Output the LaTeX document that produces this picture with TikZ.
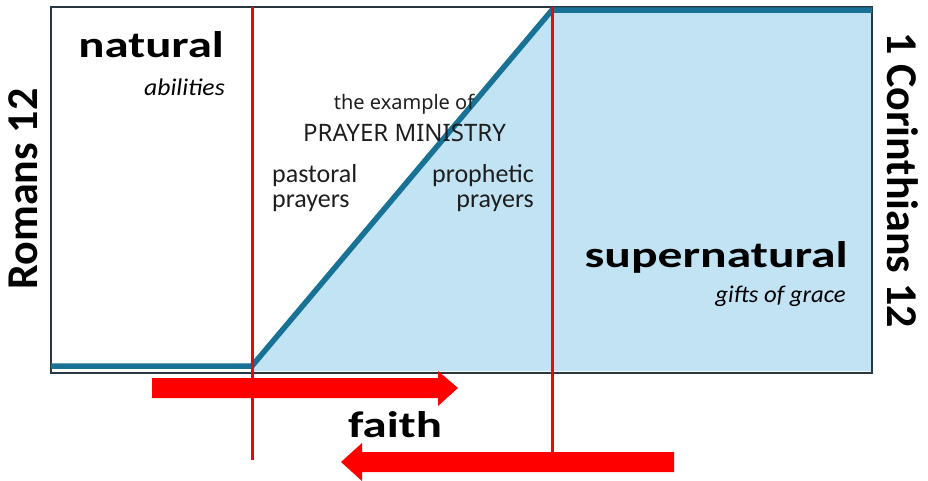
\documentclass[tikz,border=0pt]{standalone}
\usepackage{fontspec}
\usepackage{graphicx}
\setmainfont{Carlito}
\newfontfamily\notosans{Noto Sans}
\definecolor{skyfill}{RGB}{194,227,244}
\definecolor{tealline}{RGB}{24,114,150}
\definecolor{boxline}{RGB}{40,55,65}
\definecolor{redline}{RGB}{230,10,10}
\definecolor{redarrow}{RGB}{255,0,0}
\definecolor{midtext}{RGB}{30,30,30}
\newcommand{\widetext}[2]{\scalebox{#1}[1]{#2}}
\tikzset{
  txt/.style={inner sep=0pt, text=black},
  bigword/.style={txt, font=\bfseries\fontsize{37}{37}\selectfont},
  subword/.style={txt, font=\itshape\fontsize{24}{24}\selectfont},
  sidelabel/.style={txt, font=\bfseries\fontsize{44}{44}\selectfont},
  prayertxt/.style={txt, text=midtext, font=\fontsize{26}{26}\selectfont},
  heading/.style={txt, text=midtext, font=\notosans\fontsize{#1}{#1}\selectfont},
  redvert/.style={redline, line width=3pt},
  arrowfill/.style={fill=redarrow}
}
\begin{document}
\begin{tikzpicture}[x=1pt, y=-1pt]
\useasboundingbox (0,0) rectangle (928,480);
% blue region
\fill[skyfill] (252,368) -- (552,10) -- (872,10) -- (872,371) -- (252,371) -- cycle;
% frame
\draw[boxline, line width=1.5pt] (51,7) rectangle (872,373);
% teal profile line
\draw[tealline, line width=5.5pt] (51,366) -- (252,366) -- (552,10) -- (872,10);
% red verticals
\coordinate (r1top) at (252,7);
\coordinate (r1bot) at (252,460);
\coordinate (r2top) at (552,7);
\coordinate (r2bot) at (552,455);
\draw[redvert] (r1top) -- (r1bot);
\draw[redvert] (r2top) -- (r2bot);
% arrows
\fill[arrowfill] (152,378) -- (438,378) -- (438,371) -- (458,388) -- (438,406) -- (438,398) -- (152,398) -- cycle;
\fill[arrowfill] (674,452) -- (362,452) -- (362,443) -- (341,462) -- (362,481) -- (362,472) -- (674,472) -- cycle;
% texts
\node[bigword, anchor=base east] (natural) at (224,57) {\widetext{1.32}{natural}};
\node[subword, anchor=base east] (abilities) at (225,95) {\widetext{1.07}{abilities}};
\node[bigword, anchor=base east] (supernatural) at (848,267) {\widetext{1.34}{supernatural}};
\node[subword, anchor=base east] (gifts) at (846,302) {\widetext{1.03}{gifts of grace}};
\node[bigword, anchor=base] (faith) at (395,437) {\widetext{1.32}{faith}};
\node[sidelabel, rotate=90] (romans) at (23,189) {Romans 12};
\node[sidelabel, rotate=-90] (corinth) at (903,180) {1 Corinthians 12};
\node[heading=20, anchor=base] (example) at (404,109) {the example of};
\node[heading=24, anchor=base] (ministry) at (404.5,141) {PRAYER MINISTRY};
\node[prayertxt, anchor=base west] (past1) at (272,182) {pastoral};
\node[prayertxt, anchor=base west] (past2) at (272,207) {prayers};
\node[prayertxt, anchor=base east] (proph1) at (534,182) {prophetic};
\node[prayertxt, anchor=base east] (proph2) at (534,207) {prayers};
\end{tikzpicture}
\end{document}
